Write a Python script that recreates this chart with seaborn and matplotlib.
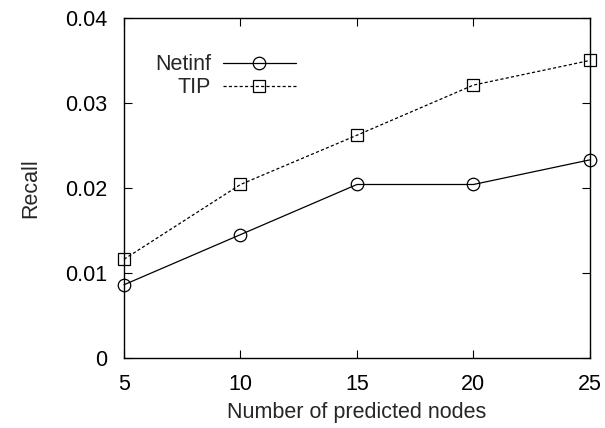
import matplotlib
matplotlib.use("Agg")
import matplotlib.pyplot as plt
import seaborn as sns
import pandas as pd

# data
nodes = [5, 10, 15, 20, 25]
netinf = [0.0086, 0.0145, 0.0204, 0.0204, 0.0233]
tip = [0.0116, 0.0204, 0.0262, 0.0321, 0.0350]
methods = ["Netinf", "TIP"]
x_ticks = [5, 10, 15, 20, 25]
y_ticks = [0, 0.01, 0.02, 0.03, 0.04]
y_labels = ["0", "0.01", "0.02", "0.03", "0.04"]

df = pd.DataFrame({
    "nodes": nodes * 2,
    "recall": netinf + tip,
    "method": ["Netinf"] * len(nodes) + ["TIP"] * len(nodes),
})

sns.set_style("ticks")
plt.rcParams["font.family"] = ["Liberation Sans", "DejaVu Sans"]
fs = 15.5

fig = plt.figure(figsize=(6.05, 4.28), dpi=100)
ax = fig.add_axes([0.205, 0.164, 0.770, 0.794])

sns.lineplot(
    data=df, x="nodes", y="recall", style="method", style_order=methods,
    markers={"Netinf": "o", "TIP": "s"},
    dashes={"Netinf": "", "TIP": (2.5, 1.8)},
    color="black", linewidth=0.9, markersize=9,
    markerfacecolor="none", markeredgecolor="black", markeredgewidth=0.9,
    legend=False, ax=ax,
)

ax.set_xlim(5, 25)
ax.set_ylim(0, 0.04)
ax.set_xticks(x_ticks)
ax.set_yticks(y_ticks)
ax.set_yticklabels(y_labels)
ax.tick_params(direction="in", length=6, width=0.8, top=True, right=True,
               labelsize=fs, colors="black")
ax.tick_params(axis="y", pad=12)
ax.tick_params(axis="x", pad=12)
for sp in ax.spines.values():
    sp.set_linewidth(1.0)
    sp.set_color("black")
ax.set_xlabel("Number of predicted nodes", fontsize=fs, labelpad=5)
ax.set_ylabel("Recall", fontsize=fs)
ax.yaxis.set_label_coords(-0.178, 0.5)
for line in ax.lines:
    line.set_clip_on(False)

ax.legend(ax.lines[:2], methods, loc="upper left", bbox_to_anchor=(0.066, 0.893),
          frameon=False, markerfirst=False, handlelength=3.4, handletextpad=0.55,
          labelspacing=0.1, fontsize=fs, borderaxespad=0, borderpad=0)

fig.savefig("out.png", dpi=100)
